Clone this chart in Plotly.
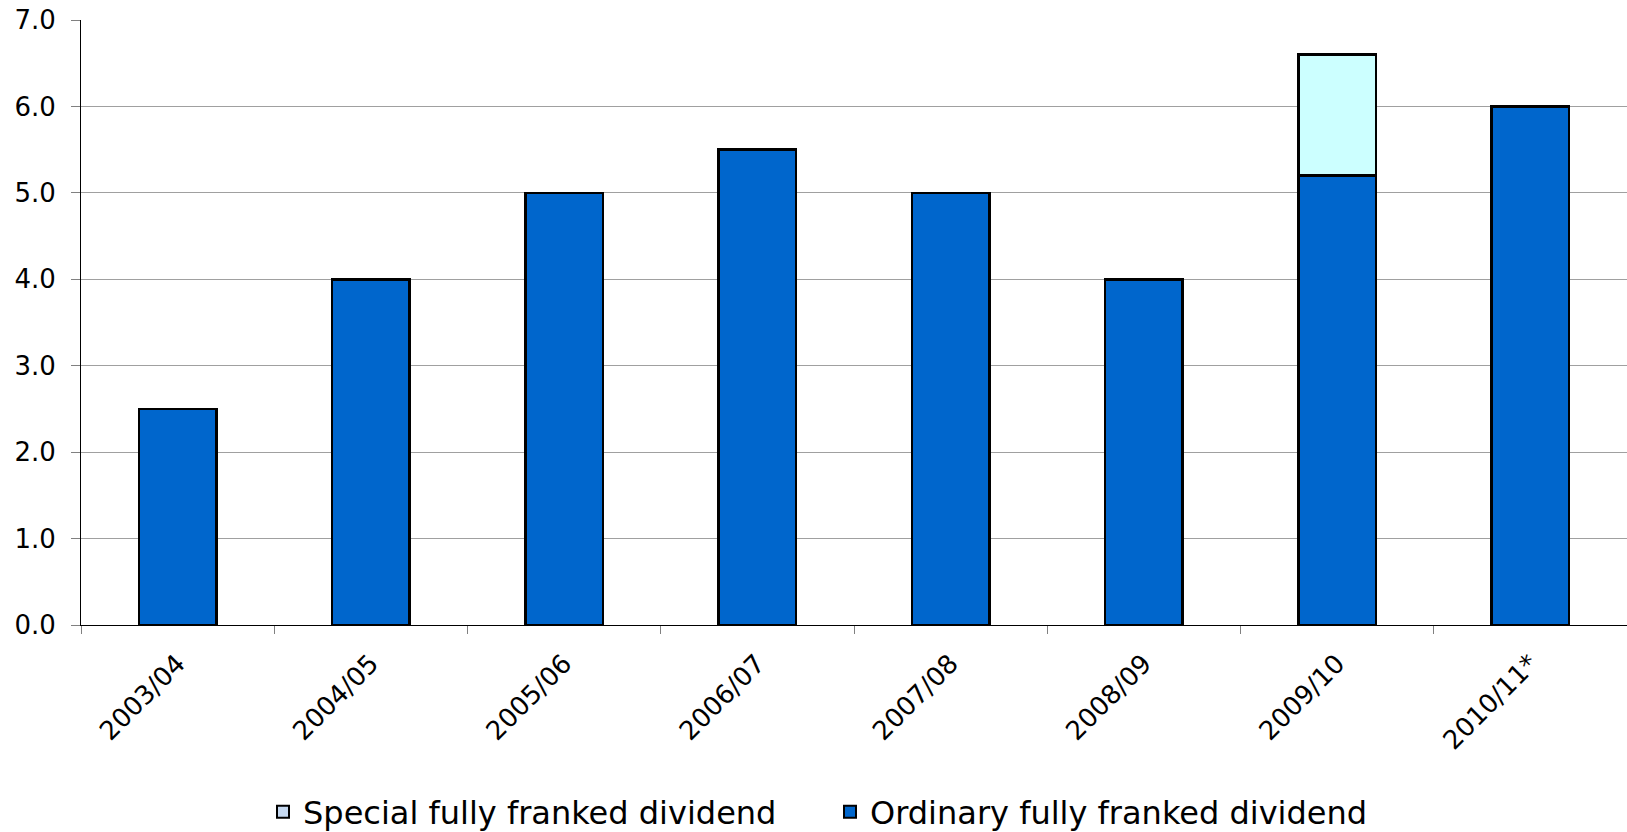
import plotly.graph_objects as go

years = ["2003/04", "2004/05", "2005/06", "2006/07", "2007/08", "2008/09", "2009/10", "2010/11*"]
ordinary = [2.5, 4.0, 5.0, 5.5, 5.0, 4.0, 5.2, 6.0]
special = [None, None, None, None, None, None, 1.4, None]
y_ticks = [0, 1, 2, 3, 4, 5, 6, 7]
y_tick_labels = ["0.0", "1.0", "2.0", "3.0", "4.0", "5.0", "6.0", "7.0"]

fig = go.Figure()
fig.add_trace(go.Bar(
    x=years, y=ordinary, name="Ordinary fully franked dividend",
    marker=dict(color="#0066CC", line=dict(color="black", width=2.5)),
    width=0.4, showlegend=False,
))
fig.add_trace(go.Bar(
    x=years, y=special, name="Special fully franked dividend",
    marker=dict(color="#CCFFFF", line=dict(color="black", width=2.5)),
    width=0.4, showlegend=False,
))
# legend entries (swatch colours as in the reference legend)
fig.add_trace(go.Bar(
    x=[years[0]], y=[None], name="Ordinary fully franked dividend",
    marker=dict(color="#0066CC", line=dict(color="black", width=2)),
))
fig.add_trace(go.Bar(
    x=[years[0]], y=[None], name="Special fully franked dividend",
    marker=dict(color="#C6D9F1", line=dict(color="black", width=2)),
))

W, H = 1627, 832
ML, MT, MB = 81, 20, 207
fig.update_layout(
    barmode="stack",
    width=W, height=H,
    margin=dict(l=ML, r=0, t=MT, b=MB, autoexpand=False),
    paper_bgcolor="white", plot_bgcolor="white",
    font=dict(family="DejaVu Sans", size=26, color="black"),
    showlegend=True,
    legend=dict(
        orientation="h", traceorder="reversed",
        x=(263 - ML) / (W - ML), xanchor="left", y=-0.309, yanchor="middle",
        font=dict(family="DejaVu Sans", size=32, color="black"),
        itemwidth=30, entrywidth=522,
    ),
    xaxis=dict(
        tickangle=-45, showgrid=False, automargin=False,
        showline=True, linecolor="black", linewidth=1,
        ticks="outside", tickson="boundaries", ticklen=8, tickcolor="#808080",
        ticklabelstandoff=12,
        tickfont=dict(family="DejaVu Sans", size=26, color="black"),
    ),
    yaxis=dict(
        range=[0, 7], tickvals=y_ticks, ticktext=y_tick_labels, automargin=False,
        showgrid=True, gridcolor="#A0A0A0", gridwidth=1,
        showline=True, linecolor="black", linewidth=1,
        ticks="outside", ticklen=9, tickcolor="#808080",
        ticklabelstandoff=10, ticklabeloverflow="allow",
        zeroline=False,
        tickfont=dict(family="DejaVu Sans", size=26, color="black"),
    ),
)

fig.write_html(
    "out.html",
    config={"displayModeBar": False},
    post_script="document.body.style.margin='0';document.body.style.overflow='hidden';",
)
